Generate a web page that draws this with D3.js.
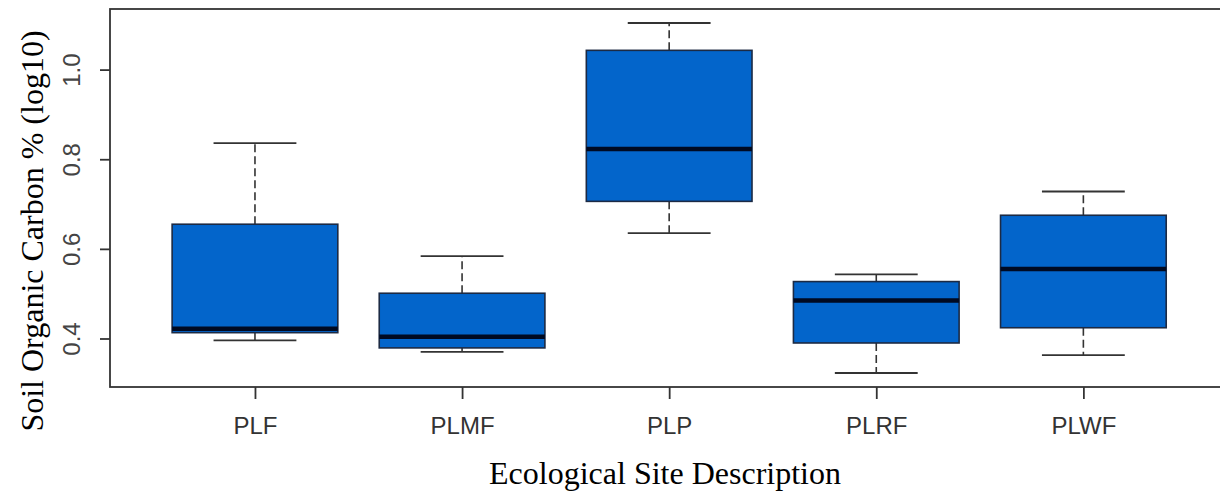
<!DOCTYPE html>
<html>
<head>
<meta charset="utf-8">
<script src="https://cdn.jsdelivr.net/npm/d3@7"></script>
<style>
  body { margin: 0; background: #fff; }
  svg { display: block; }
</style>
</head>
<body>
<svg id="chart" width="1220" height="499"></svg>
<script>
const categories = ["PLF", "PLMF", "PLP", "PLRF", "PLWF"];
const lowerWhisker = [0.396, 0.370, 0.635, 0.323, 0.363];
const q1 = [0.413, 0.379, 0.706, 0.390, 0.424];
const median = [0.422, 0.404, 0.823, 0.485, 0.555];
const q3 = [0.655, 0.501, 1.043, 0.527, 0.675];
const upperWhisker = [0.836, 0.584, 1.104, 0.543, 0.728];
const yTicks = [0.4, 0.6, 0.8, 1.0];

const svg = d3.select("#chart");
const plotLeft = 110, plotTop = 9, plotBottom = 387;
const unit = 207.1;

const n = categories.length;
const xPad = n * 0.04;
const x = d3.scaleLinear()
  .domain([0.5 - xPad, n + 0.5 + xPad])
  .range([plotLeft, plotLeft + (n + 2 * xPad) * unit]);

const lo = d3.min(lowerWhisker), hi = d3.max(upperWhisker);
const ext = (hi - lo) * 0.04;
const y = d3.scaleLinear().domain([lo - ext, hi + ext]).range([plotBottom, plotTop]);

const boxW = 0.8, capW = 0.4;

const data = categories.map((c, i) => ({
  c, pos: i + 1, lw: lowerWhisker[i], q1: q1[i], med: median[i], q3: q3[i], uw: upperWhisker[i]
}));

const g = svg.append("g");

g.selectAll(".wh-up").data(data).join("line")
  .attr("x1", d => x(d.pos)).attr("x2", d => x(d.pos))
  .attr("y1", d => y(d.q3)).attr("y2", d => y(d.uw))
  .attr("stroke", "#333").attr("stroke-width", 1.6).attr("stroke-dasharray", "8,4");
g.selectAll(".wh-lo").data(data).join("line")
  .attr("x1", d => x(d.pos)).attr("x2", d => x(d.pos))
  .attr("y1", d => y(d.q1)).attr("y2", d => y(d.lw))
  .attr("stroke", "#333").attr("stroke-width", 1.6).attr("stroke-dasharray", "8,4");

["uw", "lw"].forEach(k => {
  g.selectAll(".cap-" + k).data(data).join("line")
    .attr("x1", d => x(d.pos - capW / 2)).attr("x2", d => x(d.pos + capW / 2))
    .attr("y1", d => y(d[k])).attr("y2", d => y(d[k]))
    .attr("stroke", "#333").attr("stroke-width", 1.8);
});

g.selectAll(".box").data(data).join("rect")
  .attr("x", d => x(d.pos - boxW / 2))
  .attr("width", d => x(d.pos + boxW / 2) - x(d.pos - boxW / 2))
  .attr("y", d => y(d.q3))
  .attr("height", d => y(d.q1) - y(d.q3))
  .attr("fill", "#0365CB").attr("stroke", "#1c2a44").attr("stroke-width", 1.6);

g.selectAll(".med").data(data).join("line")
  .attr("x1", d => x(d.pos - boxW / 2)).attr("x2", d => x(d.pos + boxW / 2))
  .attr("y1", d => y(d.med)).attr("y2", d => y(d.med))
  .attr("stroke", "#000a22").attr("stroke-width", 4.5);

svg.append("rect")
  .attr("x", plotLeft).attr("y", plotTop)
  .attr("width", x.range()[1] - plotLeft).attr("height", plotBottom - plotTop)
  .attr("fill", "none").attr("stroke", "#333").attr("stroke-width", 1.8);

const tickFont = "'Liberation Sans Narrow', 'Liberation Sans', Arial, sans-serif";

const xAxis = d3.axisBottom(x)
  .tickValues(data.map(d => d.pos))
  .tickFormat((v, i) => categories[i])
  .tickSize(12).tickPadding(18);
const xa = svg.append("g").attr("transform", `translate(0,${plotBottom})`).call(xAxis);
xa.select(".domain").remove();
xa.selectAll(".tick line").attr("stroke", "#333").attr("stroke-width", 1.8);
xa.selectAll(".tick text").attr("fill", "#333").style("font-family", tickFont).style("font-size", "24px");

const yAxis = d3.axisLeft(y).tickValues(yTicks).tickFormat(d3.format(".1f")).tickSize(10).tickPadding(0);
const ya = svg.append("g").attr("transform", `translate(${plotLeft},0)`).call(yAxis);
ya.select(".domain").remove();
ya.selectAll(".tick line").attr("stroke", "#333").attr("stroke-width", 1.8);
ya.selectAll(".tick text")
  .attr("x", null).attr("dy", null)
  .attr("fill", "#444")
  .attr("text-anchor", "middle")
  .attr("transform", "translate(-30,0) rotate(-90)")
  .style("font-family", tickFont).style("font-size", "24px");

svg.append("text")
  .attr("x", 665).attr("y", 484)
  .attr("text-anchor", "middle")
  .style("font-family", "'Liberation Serif', 'Times New Roman', serif")
  .style("font-size", "32px").attr("fill", "#000")
  .text("Ecological Site Description");

svg.append("text")
  .attr("transform", "translate(43,231) rotate(-90)")
  .attr("text-anchor", "middle")
  .style("font-family", "'Liberation Serif', 'Times New Roman', serif")
  .style("font-size", "32px").attr("fill", "#000")
  .text("Soil Organic Carbon % (log10)");
</script>
</body>
</html>
